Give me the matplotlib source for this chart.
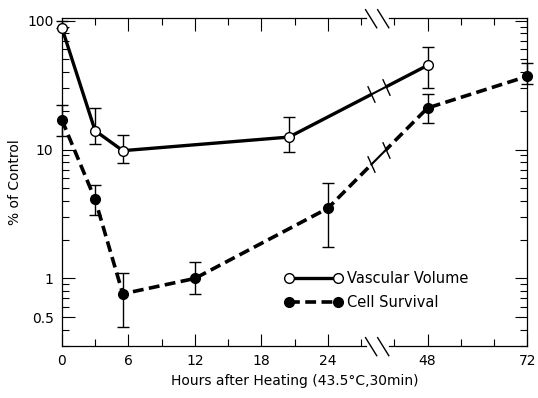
import numpy as np
import matplotlib
matplotlib.use("Agg")
import matplotlib.pyplot as plt
from matplotlib.path import Path

# hours after heating
t_vasc = [0, 3, 5.5, 20.5, 48]
vasc = [88, 14, 9.8, 12.5, 45]
vasc_lo = [None, 11, 7.8, 9.6, 30]
vasc_hi = [100, 21, 13, 18, 63]

t_cell = [0, 3, 5.5, 12, 24, 48, 72]
cell = [17, 4.1, 0.76, 1.0, 3.5, 21, 37]
cell_lo = [12.8, 3.1, 0.42, 0.76, 1.75, 16, 32]
cell_hi = [22, 5.3, 1.1, 1.35, 5.5, 27, 47]

xticks = [0, 6, 12, 18, 24, 48, 72]
xminor = [3, 9, 15, 21, 32, 40, 56, 64]
yticks = [0.5, 1, 10, 100]
ylabels = ["0.5", "1", "10", "100"]

BREAK = 24
K = 0.375


def fwd(t):
    t = np.asarray(t, dtype=float)
    return np.where(t <= BREAK, t, BREAK + (t - BREAK) * K)


def inv(u):
    u = np.asarray(u, dtype=float)
    return np.where(u <= BREAK, u, BREAK + (u - BREAK) / K)


plt.rcParams['font.family'] = ['DejaVu Sans']
fig = plt.figure(figsize=(5.38, 3.98), dpi=100)
ax = fig.add_axes([0.115, 0.131, 0.865, 0.824])
ax.set_xscale('function', functions=(fwd, inv))
ax.set_yscale('log')


def err(vals, lo, hi):
    low = [v - l if l is not None else 0 for v, l in zip(vals, lo)]
    up = [h - v for v, h in zip(vals, hi)]
    return [low, up]


ax.errorbar(t_vasc, vasc, yerr=err(vasc, vasc_lo, vasc_hi), fmt='none',
            ecolor='black', elinewidth=1, capsize=4, capthick=1, clip_on=False)
ax.errorbar(t_cell, cell, yerr=err(cell, cell_lo, cell_hi), fmt='none',
            ecolor='black', elinewidth=1, capsize=4, capthick=1, clip_on=False)

ax.plot(t_vasc, vasc, '-', color='black', lw=2.4, marker='o', ms=7,
        mfc='white', mec='black', mew=1, label='Vascular Volume', clip_on=False, zorder=3)
ax.plot(t_cell, cell, '--', color='black', lw=2.6, dashes=(3, 1.5), marker='o', ms=7,
        mfc='black', mec='black', label='Cell Survival', clip_on=False, zorder=3)

# break marks on the lines (small gap between two "\" strokes)
stroke = Path([[-0.45, 1.0], [0.45, -1.0]], [Path.MOVETO, Path.LINETO])
brk = [34.5, 38]
for tt, yy in [(t_vasc, vasc), (t_cell, cell)]:
    yb = 10 ** np.interp(fwd(brk), fwd(tt), np.log10(yy))
    ax.plot(brk, yb, '-', color='white', lw=3.5, zorder=3.5, solid_capstyle='butt')
    ax.plot(brk, yb, 'none', marker=stroke, ms=12, color='black', mew=1, zorder=4)

# break marks on the top and bottom spines
xb = float(fwd(36)) / 42
for y0 in [1.0, 0.0]:
    ax.plot([xb - 0.02, xb + 0.02], [y0, y0], transform=ax.transAxes,
            color='white', lw=2, clip_on=False, zorder=5)
    for dx in [-0.014, 0.012]:
        ax.plot([xb + dx - 0.012, xb + dx + 0.012], [y0 + 0.025, y0 - 0.03],
                transform=ax.transAxes, color='black', lw=1, clip_on=False, zorder=6)

ax.set_xlim(0, 72)
ax.set_ylim(0.3, 105)
ax.set_xticks(xticks)
ax.set_xticklabels([str(x) for x in xticks])
ax.set_xticks(xminor, minor=True)
ax.set_yticks(yticks)
ax.set_yticklabels(ylabels)
ax.tick_params(which='both', direction='in', top=True, right=True, labelsize=10, width=0.8)
ax.tick_params(which='major', length=9, pad=6)
ax.tick_params(which='minor', length=5)
ax.yaxis.set_minor_formatter(matplotlib.ticker.NullFormatter())
for s in ax.spines.values():
    s.set_linewidth(0.9)

ax.set_xlabel("Hours after Heating (43.5°C,30min)", fontsize=10, labelpad=4)
ax.set_ylabel("% of Control", fontsize=10, labelpad=4)

ax.legend(loc='lower left', bbox_to_anchor=(0.45, 0.07), frameon=False, numpoints=2,
          fontsize=10.5, handlelength=4, handletextpad=0.3, labelspacing=0.6)

fig.savefig("out.png", dpi=100)
